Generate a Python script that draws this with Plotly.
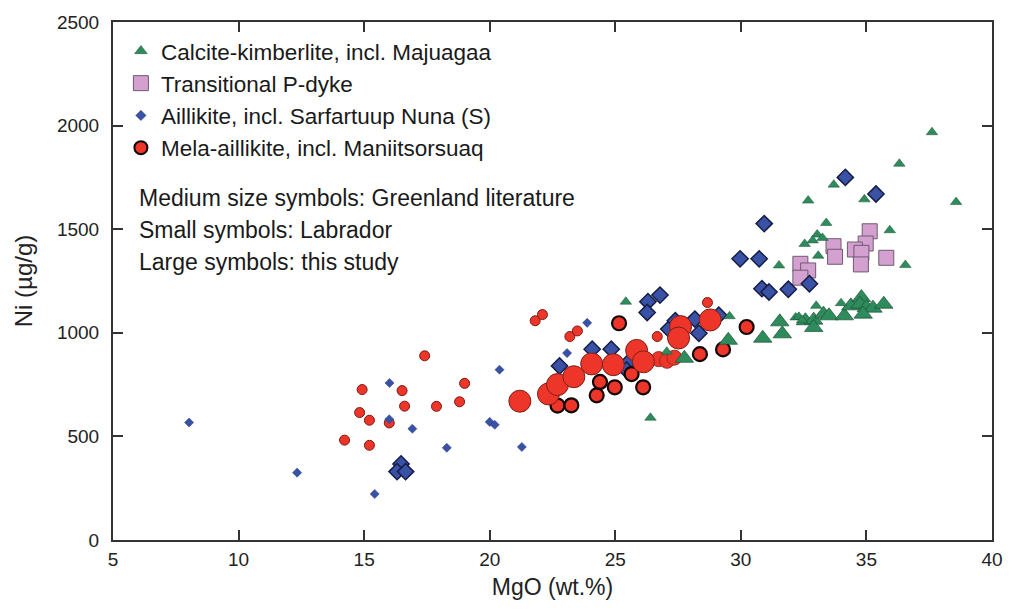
import plotly.graph_objects as go

# ---------------- data (MgO wt.%, Ni ug/g) ----------------
# Calcite-kimberlite (green triangles)
ck_small_mgo = [25.42, 26.4, 27.05, 29.55, 37.61, 36.31, 33.70, 32.68, 34.92, 38.57, 33.40, 35.93,
                33.04, 32.86, 33.25, 32.54, 33.08, 31.52, 36.55, 33.0, 33.99, 32.18, 32.31, 32.44]
ck_small_ni = [1150, 590, 909, 1080, 1968, 1816, 1715, 1638, 1644, 1631, 1530, 1495,
               1474, 1446, 1458, 1429, 1372, 1325, 1327, 1130, 1143, 1074, 1077, 1061]
ck_med_mgo = [27.75, 29.5, 30.87, 31.55, 31.65, 32.57, 32.9, 32.9, 33.29, 33.51, 34.12, 34.38,
              34.80, 34.74, 35.0, 35.26, 34.87, 35.69]
ck_med_ni = [877, 964, 974, 1053, 995, 1058, 1061, 1026, 1090, 1082, 1082, 1130,
             1170, 1138, 1122, 1119, 1090, 1138]

# Transitional P-dyke (pink squares)
tp_mgo = [35.13, 34.97, 33.69, 34.54, 33.75, 34.8, 35.79, 34.78, 32.37, 32.68, 32.37]
tp_ni = [1490, 1431, 1418, 1402, 1367, 1386, 1362, 1330, 1333, 1301, 1266]

# Aillikite (blue diamonds)
ai_small_mgo = [8.03, 12.33, 15.42, 16.01, 16.0, 16.92, 18.29, 20.0, 20.2, 20.39, 21.28, 23.08, 23.88]
ai_small_ni = [567, 325, 222, 758, 583, 537, 445, 570, 556, 822, 449, 902, 1048]
ai_med_mgo = [16.47, 16.31, 16.65, 22.78, 24.08, 24.84, 25.55, 25.45, 26.3, 26.78, 26.27, 27.13,
              27.39, 28.17, 28.33, 29.12, 29.97, 30.73, 30.93, 30.84, 31.12, 31.89, 32.73, 34.16, 35.38]
ai_med_ni = [367, 330, 330, 840, 921, 921, 860, 820, 1150, 1182, 1098, 1018,
             1058, 1066, 998, 1085, 1357, 1357, 1527, 1213, 1197, 1210, 1237, 1750, 1670]

# Mela-aillikite (red circles)
ma_small_mgo = [14.22, 14.92, 14.82, 15.21, 16.0, 15.21, 16.51, 16.61, 17.41, 17.88, 18.8, 19.0,
                21.81, 22.1, 23.19, 23.49, 26.67, 28.67]
ma_small_ni = [482, 726, 615, 578, 565, 457, 721, 646, 889, 645, 667, 756,
               1058, 1088, 982, 1009, 982, 1146]
ma_med_mgo = [22.7, 23.25, 24.26, 24.39, 24.98, 25.65, 26.11, 25.15, 28.37, 29.29, 30.23]
ma_med_ni = [649, 650, 698, 763, 737, 801, 737, 1046, 897, 920, 1028]
ma_mid_mgo = [26.73, 27.06, 27.35]
ma_mid_ni = [873, 865, 880]
ma_large_mgo = [21.2, 22.34, 22.7, 23.35, 24.06, 24.92, 25.85, 26.12, 27.6, 27.52, 28.78]
ma_large_ni = [670, 705, 750, 788, 850, 846, 915, 860, 1030, 975, 1062]

legend_names = ["Calcite-kimberlite, incl. Majuagaa", "Transitional P-dyke",
                "Aillikite, incl. Sarfartuup Nuna (S)", "Mela-aillikite, incl. Maniitsorsuaq"]
notes = ["Medium size symbols: Greenland literature", "Small symbols: Labrador",
         "Large symbols: this study"]

GREEN = "#2e8c5c"
PINK = "#d4a0d0"
BLUE = "#3a52a6"
RED = "#ee3529"

FONT = "Liberation Sans, Arial, sans-serif"

fig = go.Figure()


def add(x, y, symbol, size, color, lc, lw):
    fig.add_trace(go.Scatter(x=x, y=y, mode="markers", showlegend=False, hoverinfo="skip",
                             marker=dict(symbol=symbol, size=size, color=color,
                                         line=dict(color=lc, width=lw))))


# small symbols
add(ma_small_mgo, ma_small_ni, "circle", 10, RED, "#7a1a12", 1)
add(ai_small_mgo, ai_small_ni, "diamond", 7, BLUE, "#2a3a80", 0.5)
# medium
add(tp_mgo, tp_ni, "square", 15, PINK, "#6e5a6e", 1)
add(ai_med_mgo, ai_med_ni, "diamond", 12.5, BLUE, "#161c45", 1.5)
add(ma_med_mgo, ma_med_ni, "circle", 14, RED, "#120505", 2.2)
add(ma_mid_mgo, ma_mid_ni, "circle", 15, RED, "#9a2a20", 1)
# large
add(ma_large_mgo, ma_large_ni, "circle", 22, RED, "#7a2018", 1)
# green on top
add(ck_med_mgo, ck_med_ni, "triangle-up", 16, GREEN, "#1d4f36", 0.7)
add(ck_small_mgo, ck_small_ni, "triangle-up", 10, GREEN, "#1d4f36", 0.5)

# legend-only traces
leg_specs = [("triangle-up", 11, GREEN, "#1d4f36", 0.5),
             ("square", 15, PINK, "#6e5a6e", 1),
             ("diamond", 8, BLUE, "#2a3a80", 0.5),
             ("circle", 13, RED, "#120505", 2)]
for i, (name, (sym, sz, col, lc, lw)) in enumerate(zip(legend_names, leg_specs)):
    fig.add_trace(go.Scatter(x=[None], y=[None], mode="markers", name=name, legendgroup=f"g{i}",
                             marker=dict(symbol=sym, size=sz, color=col, line=dict(color=lc, width=lw))))

for i, t in enumerate(notes):
    fig.add_annotation(text=t, xref="paper", yref="paper", x=(137 - 113) / 889,
                       y=(540 - (197 + i * 32)) / 520, xanchor="left", yanchor="middle",
                       showarrow=False, font=dict(family=FONT, size=23, color="#1a1a1a"))

axis_common = dict(showline=True, linewidth=2, linecolor="#333333", mirror="ticks",
                   ticks="inside", ticklen=10, tickwidth=2, tickcolor="#333333",
                   showgrid=False, zeroline=False,
                   tickfont=dict(family=FONT, size=19, color="#222222"))

fig.update_layout(
    width=1015, height=610,
    margin=dict(l=113, r=13, t=20, b=70),
    paper_bgcolor="white", plot_bgcolor="white",
    xaxis=dict(range=[5, 40], dtick=5, tick0=5, ticklabelstandoff=1,
               title=dict(text="MgO (wt.%)", font=dict(family=FONT, size=23, color="#222222"), standoff=10),
               **axis_common),
    yaxis=dict(range=[0, 2500], dtick=500, ticklabelstandoff=8,
               title=dict(text="Ni (µg/g)", font=dict(family=FONT, size=24, color="#222222"), standoff=18),
               **axis_common),
    legend=dict(x=0.009, y=0.985, xanchor="left", yanchor="top", bgcolor="rgba(0,0,0,0)",
                font=dict(family=FONT, size=22.5, color="#1a1a1a"), tracegroupgap=0,
                itemsizing="trace"),
    showlegend=True,
)

fig.write_html("out.html")
